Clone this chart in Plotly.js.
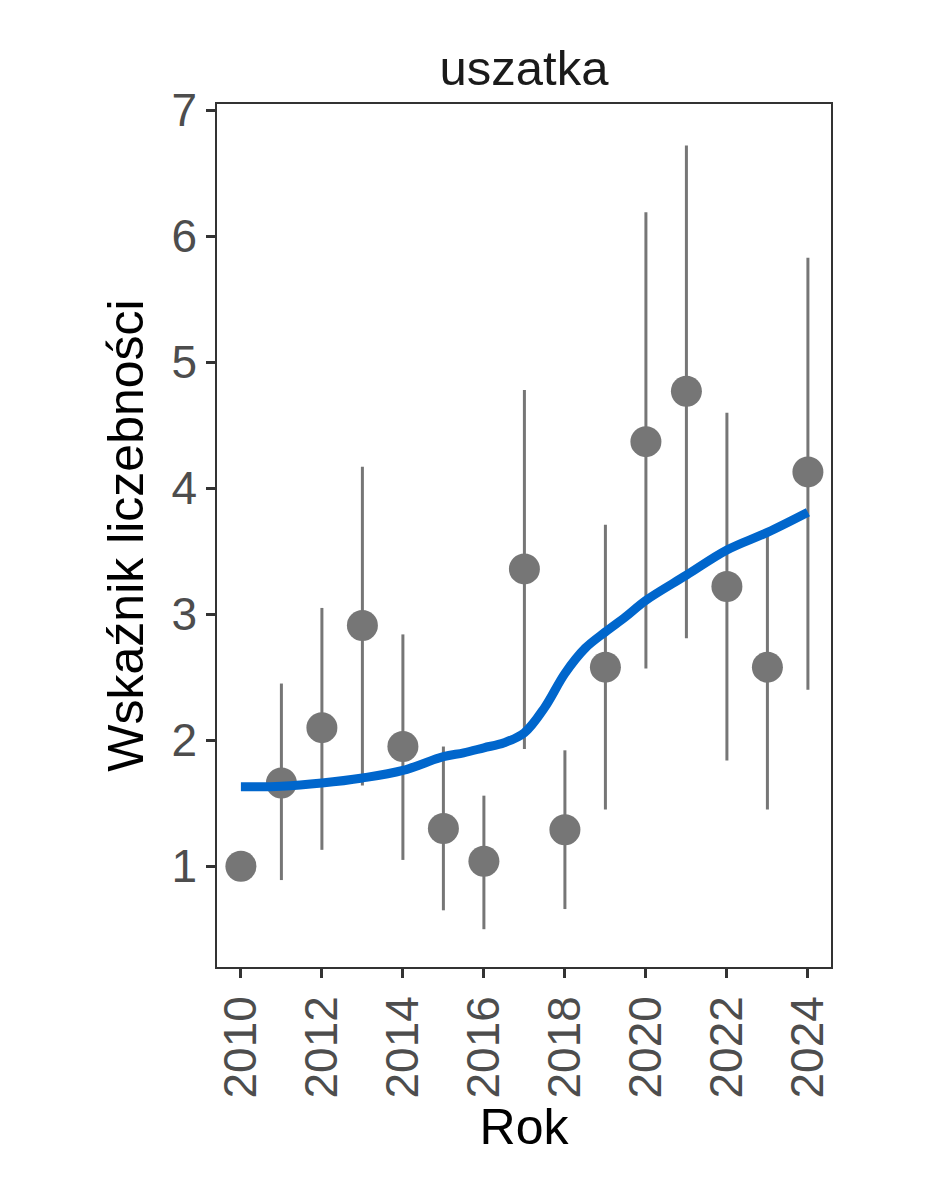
<!DOCTYPE html>
<html>
<head>
<meta charset="utf-8">
<script src="https://cdn.plot.ly/plotly-3.0.1.min.js"></script>
<style>
  html, body { margin: 0; padding: 0; background: #ffffff; }
  #chart { width: 944px; height: 1181px; }
</style>
</head>
<body>
<div id="chart"></div>
<script>
// yearly index values with confidence bounds
const years = [2010, 2011, 2012, 2013, 2014, 2015, 2016, 2017, 2018, 2019, 2020, 2021, 2022, 2023, 2024];
const index = [1.00, 1.66, 2.10, 2.91, 1.95, 1.30, 1.04, 3.36, 1.29, 2.58, 4.37, 4.77, 3.22, 2.58, 4.13];
const lower = [1.00, 0.89, 1.13, 1.64, 1.05, 0.65, 0.50, 1.93, 0.66, 1.45, 2.57, 2.81, 1.84, 1.45, 2.40];
const upper = [1.00, 2.45, 3.05, 4.17, 2.84, 1.95, 1.56, 4.78, 1.92, 3.71, 6.19, 6.72, 4.60, 3.63, 5.83];

// smoothed trend
const trendYears = [2010, 2011, 2012, 2013, 2014, 2015, 2015.5, 2016, 2016.5, 2017, 2017.5, 2018, 2018.5, 2019, 2019.5, 2020, 2021, 2022, 2023, 2024];
const trendVals = [1.63, 1.635, 1.66, 1.70, 1.76, 1.87, 1.90, 1.94, 1.98, 2.06, 2.26, 2.53, 2.73, 2.86, 2.98, 3.11, 3.31, 3.51, 3.65, 3.81];

const xTicks = [2010, 2012, 2014, 2016, 2018, 2020, 2022, 2024];
const yTicks = [1, 2, 3, 4, 5, 6, 7];

const FONT = 'Liberation Sans, Arial, sans-serif';

const traces = [
  {
    x: years,
    y: index,
    type: 'scatter',
    mode: 'markers',
    marker: { color: '#767676', size: 31 },
    error_y: {
      type: 'data',
      symmetric: false,
      array: upper.map((u, i) => u - index[i]),
      arrayminus: lower.map((l, i) => index[i] - l),
      color: '#767676',
      thickness: 3,
      width: 0
    },
    hoverinfo: 'skip'
  },
  {
    x: trendYears,
    y: trendVals,
    type: 'scatter',
    mode: 'lines',
    line: { color: '#0066CC', width: 9, shape: 'spline', smoothing: 1 },
    hoverinfo: 'skip'
  }
];

const layout = {
  width: 944,
  height: 1181,
  paper_bgcolor: '#ffffff',
  plot_bgcolor: '#ffffff',
  showlegend: false,
  font: { family: FONT, color: '#4d4d4d' },
  margin: { l: 217, r: 113, t: 104, b: 214 },
  title: {
    text: 'uszatka',
    font: { size: 49, color: '#1a1a1a', family: FONT },
    x: 0.5,
    xref: 'paper',
    y: 1 - 68 / 1181,
    yref: 'container',
    yanchor: 'middle'
  },
  xaxis: {
    range: [2009.41, 2024.57],
    tickvals: xTicks,
    ticktext: xTicks.map(String),
    tickangle: -90,
    ticks: 'outside',
    ticklen: 9,
    tickwidth: 2.5,
    tickcolor: '#333333',
    tickfont: { size: 46, color: '#4d4d4d' },
    showgrid: false,
    zeroline: false,
    showline: true,
    linecolor: '#333333',
    linewidth: 1.5,
    mirror: true,
    title: { text: 'Rok', font: { size: 50, color: '#000000' }, standoff: 12 }
  },
  yaxis: {
    range: [0.2, 7.05],
    tickvals: yTicks,
    ticks: 'outside',
    ticklen: 9,
    tickwidth: 2.5,
    tickcolor: '#333333',
    tickfont: { size: 46, color: '#4d4d4d' },
    showgrid: false,
    zeroline: false,
    showline: true,
    linecolor: '#333333',
    linewidth: 1.5,
    mirror: true,
    title: { text: 'Wskaźnik liczebności', font: { size: 50, color: '#000000' }, standoff: 12 }
  }
};

Plotly.newPlot('chart', traces, layout, { displayModeBar: false, responsive: false });
</script>
</body>
</html>
